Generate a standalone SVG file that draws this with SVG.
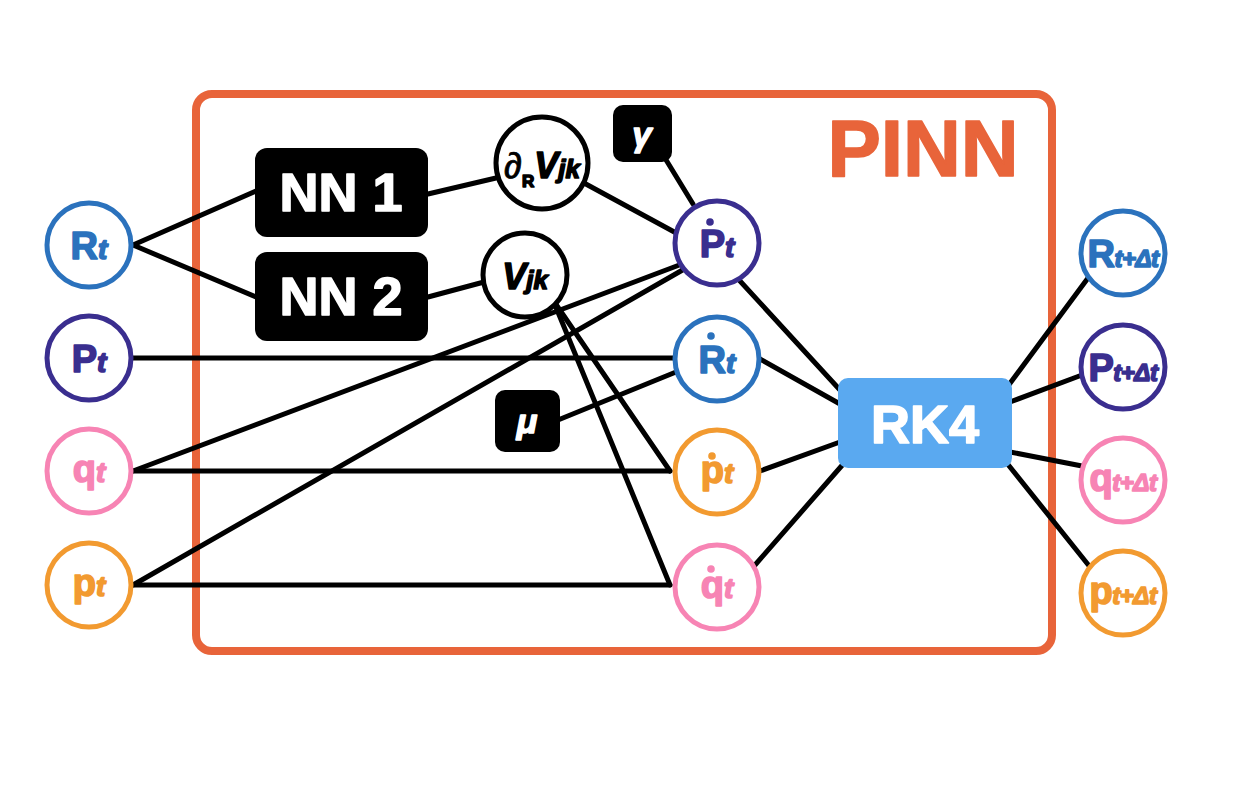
<svg xmlns="http://www.w3.org/2000/svg" width="1244" height="792" viewBox="0 0 1244 792">
<style>
.n{fill:#fff;stroke-width:5}
.b{stroke:#2B72BD}.pu{stroke:#3A2E8F}.pk{stroke:#F784B4}.or{stroke:#F29A30}
.bt{fill:#2B72BD;stroke:#2B72BD}.put{fill:#3A2E8F;stroke:#3A2E8F}.pkt{fill:#F784B4;stroke:#F784B4}.ort{fill:#F29A30;stroke:#F29A30}
text{font-family:"Liberation Sans",Arial,sans-serif;font-weight:bold;stroke-width:1.6;stroke-linejoin:round}
.m{font-size:38px}.s{font-size:28px;font-style:italic}
.ss{font-size:24px;font-style:italic}
.w{fill:#fff;stroke:#fff}
.k{fill:#000;stroke:#000}
.blk{fill:#000}
#conn line{stroke:#000;stroke-width:5;stroke-linecap:round}
</style>
<rect x="0" y="0" width="1244" height="792" fill="#fff"/>
<g id="pinn">
<rect x="196" y="94" width="856" height="557" rx="16" fill="none" stroke="#E8643A" stroke-width="8"/>
<text x="923" y="176" font-size="80" fill="#E8643A" stroke="#E8643A" stroke-width="2.5" text-anchor="middle">PINN</text>
</g>
<g id="conn">
<line x1="133" y1="245" x2="256" y2="191"/>
<line x1="133" y1="245" x2="256" y2="297"/>
<line x1="428" y1="194" x2="496" y2="178"/>
<line x1="428" y1="297" x2="484" y2="282"/>
<line x1="584" y1="183" x2="678" y2="234"/>
<line x1="660" y1="150" x2="693" y2="204"/>
<line x1="553" y1="300" x2="670" y2="471"/>
<line x1="553" y1="300" x2="670" y2="585"/>
<line x1="133" y1="471" x2="670" y2="471"/>
<line x1="133" y1="585" x2="670" y2="585"/>
<line x1="133" y1="471" x2="682" y2="264"/>
<line x1="133" y1="585" x2="686" y2="268"/>
<line x1="133" y1="358" x2="674" y2="358"/>
<line x1="558" y1="420" x2="676" y2="372"/>
<line x1="740" y1="281" x2="840" y2="390"/>
<line x1="760" y1="359" x2="840" y2="404"/>
<line x1="760" y1="471" x2="840" y2="442"/>
<line x1="755" y1="565" x2="845" y2="462"/>
<line x1="1008" y1="386" x2="1088" y2="278"/>
<line x1="1010" y1="402" x2="1082" y2="375"/>
<line x1="1010" y1="452" x2="1082" y2="466"/>
<line x1="1006" y1="462" x2="1090" y2="567"/>
</g>
<g id="Rt"><circle class="n b" cx="89" cy="245" r="42"/><text x="89" y="259" text-anchor="middle"><tspan class="m bt">R</tspan><tspan class="s bt">t</tspan></text></g>
<g id="Pt"><circle class="n pu" cx="89" cy="358" r="42"/><text x="89" y="372" text-anchor="middle"><tspan class="m put">P</tspan><tspan class="s put">t</tspan></text></g>
<g id="qt"><circle class="n pk" cx="89" cy="471" r="42"/><text x="89" y="482" text-anchor="middle"><tspan class="m pkt">q</tspan><tspan class="s pkt">t</tspan></text></g>
<g id="pt"><circle class="n or" cx="89" cy="585" r="42"/><text x="89" y="596" text-anchor="middle"><tspan class="m ort">p</tspan><tspan class="s ort">t</tspan></text></g>
<g id="nn1"><rect x="255" y="148" width="173" height="89" rx="12" class="blk"/><text x="341" y="211" font-size="54" class="w" text-anchor="middle">NN 1</text></g>
<g id="nn2"><rect x="255" y="252" width="173" height="89" rx="12" class="blk"/><text x="341" y="315" font-size="54" class="w" text-anchor="middle">NN 2</text></g>
<g id="dV"><circle class="n" stroke="#000" cx="542" cy="163" r="46"/><text x="542" y="178" text-anchor="middle" class="k"><tspan font-size="36" font-style="italic" font-weight="normal" stroke-width="0.8">∂</tspan><tspan font-size="17" dy="9">R</tspan><tspan font-size="36" font-style="italic" dy="-9">V</tspan><tspan font-size="26" font-style="italic">jk</tspan></text></g>
<g id="V"><circle class="n" stroke="#000" cx="525" cy="275" r="42"/><text x="525" y="289" text-anchor="middle" class="k"><tspan font-size="36" font-style="italic">V</tspan><tspan font-size="26" font-style="italic">jk</tspan></text></g>
<g id="gamma"><rect x="613" y="105" width="59" height="57" rx="10" class="blk"/><text x="642" y="146" font-size="34" font-style="italic" class="w" text-anchor="middle">γ</text></g>
<g id="mu"><rect x="495" y="390" width="65" height="62" rx="10" class="blk"/><text x="527" y="433" font-size="34" font-style="italic" class="w" text-anchor="middle">μ</text></g>
<g id="Pdot"><circle class="n pu" cx="717" cy="243" r="42"/><circle cx="710" cy="222" r="3.8" fill="#3A2E8F"/><text x="717" y="257" text-anchor="middle"><tspan class="m put">P</tspan><tspan class="s put">t</tspan></text></g>
<g id="Rdot"><circle class="n b" cx="717" cy="359" r="42"/><circle cx="711" cy="336" r="3.8" fill="#2B72BD"/><text x="717" y="373" text-anchor="middle"><tspan class="m bt">R</tspan><tspan class="s bt">t</tspan></text></g>
<g id="pdot"><circle class="n or" cx="717" cy="472" r="42"/><circle cx="712" cy="456" r="3.8" fill="#F29A30"/><text x="717" y="483" text-anchor="middle"><tspan class="m ort">p</tspan><tspan class="s ort">t</tspan></text></g>
<g id="qdot"><circle class="n pk" cx="717" cy="587" r="42"/><circle cx="711" cy="569" r="3.8" fill="#F784B4"/><text x="717" y="598" text-anchor="middle"><tspan class="m pkt">q</tspan><tspan class="s pkt">t</tspan></text></g>
<g id="rk4"><rect x="838" y="378" width="174" height="90" rx="10" fill="#5AA9F0"/><text x="925" y="443" font-size="54" class="w" text-anchor="middle">RK4</text></g>
<g id="Rn"><circle class="n b" cx="1123" cy="253" r="42"/><text x="1123" y="267" text-anchor="middle" letter-spacing="-0.5"><tspan class="m bt">R</tspan><tspan class="ss bt">t+Δt</tspan></text></g>
<g id="Pn"><circle class="n pu" cx="1123" cy="367" r="42"/><text x="1123" y="381" text-anchor="middle" letter-spacing="-0.5"><tspan class="m put">P</tspan><tspan class="ss put">t+Δt</tspan></text></g>
<g id="qn"><circle class="n pk" cx="1123" cy="480" r="42"/><text x="1123" y="491" text-anchor="middle" letter-spacing="-0.5"><tspan class="m pkt">q</tspan><tspan class="ss pkt">t+Δt</tspan></text></g>
<g id="pn"><circle class="n or" cx="1123" cy="593" r="42"/><text x="1123" y="604" text-anchor="middle" letter-spacing="-0.5"><tspan class="m ort">p</tspan><tspan class="ss ort">t+Δt</tspan></text></g>
</svg>
